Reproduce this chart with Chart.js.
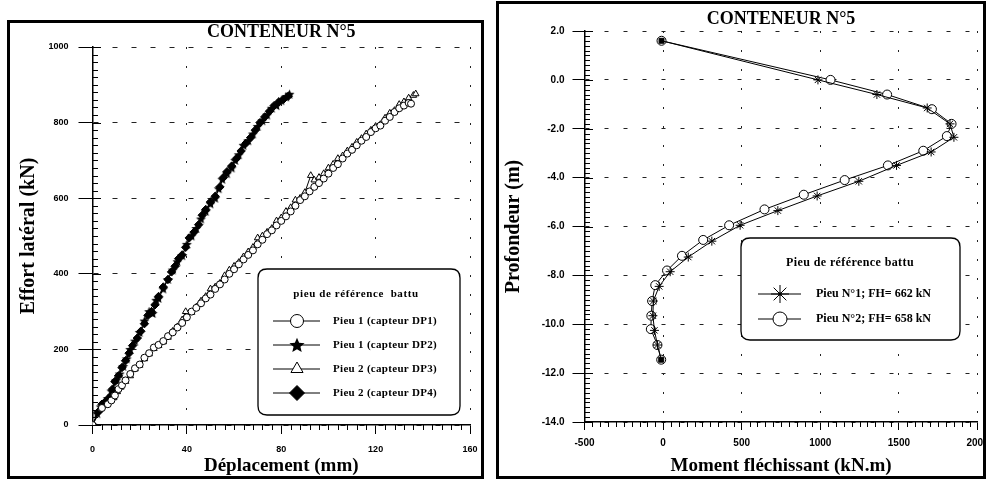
<!DOCTYPE html>
<html><head><meta charset="utf-8">
<script src="https://cdn.jsdelivr.net/npm/chart.js@4.4.1/dist/chart.umd.min.js"></script>
<style>
html,body{margin:0;padding:0;background:#fff;}
body{width:986px;height:480px;position:relative;overflow:hidden;}
.panel{position:absolute;box-sizing:border-box;border:3px solid #000;background:#fff;}
#pl{left:7px;top:20px;width:477px;height:459px;}
#pr{left:496px;top:1px;width:490px;height:478px;}
canvas{display:block;}
.overlay{position:absolute;left:0;top:0;pointer-events:none;}
</style></head><body>
<div class="panel" id="pl"><canvas id="cl" width="471" height="453"></canvas><canvas class="overlay" id="ol" width="471" height="453"></canvas></div>
<div class="panel" id="pr"><canvas id="cr" width="484" height="472"></canvas><canvas class="overlay" id="or" width="484" height="472"></canvas></div>
<script>
// ---------- texts ----------
const chartTitle = 'CONTENEUR N°5';
const leftXTitle = 'Déplacement (mm)';
const leftYTitle = 'Effort latéral (kN)';
const leftLegendTitle = 'pieu de référence  battu';
const leftSeriesLabels = ['Pieu 1 (capteur DP1)', 'Pieu 1 (capteur DP2)', 'Pieu 2 (capteur DP3)', 'Pieu 2 (capteur DP4)'];
const rightXTitle = 'Moment fléchissant (kN.m)';
const rightYTitle = 'Profondeur (m)';
const rightLegendTitle = 'Pieu de référence battu';
const rightSeriesLabels = ['Pieu N°1; FH= 662 kN', 'Pieu N°2; FH= 658 kN'];

// ---------- tick values ----------
const leftXTicks = [0, 40, 80, 120, 160];
const leftYTicks = [0, 200, 400, 600, 800, 1000];
const rightXTicks = [-500, 0, 500, 1000, 1500, 2000];
const rightYTicks = [2, 0, -2, -4, -6, -8, -10, -12, -14];

// ---------- left chart data (displacement mm, force kN) ----------
const dp1Disp  = [0, 4, 6.5, 8, 9.5, 11, 12.5, 14, 16, 18, 20, 22, 24, 26, 28, 30, 32, 34, 36, 38, 40, 42, 44, 46, 48, 50, 52, 54, 56, 58, 60, 62, 64, 66, 68, 70, 72, 74, 76, 78, 80, 82, 84, 86, 88, 90, 92, 94, 96, 98, 100, 102, 104, 106, 108, 110, 112, 114, 116, 118, 120, 122, 124, 126, 128, 130, 132, 134, 135];
const dp1Force = [0, 45, 55, 65, 78, 95, 105, 118, 135, 150, 160, 178, 190, 205, 212, 222, 235, 245, 258, 270, 285, 300, 310, 322, 335, 345, 360, 372, 385, 400, 412, 425, 438, 450, 462, 478, 490, 505, 515, 528, 540, 552, 565, 580, 595, 605, 618, 630, 640, 652, 665, 680, 690, 705, 718, 728, 740, 752, 762, 775, 785, 792, 805, 815, 828, 838, 845, 852, 850];

const dp2Disp  = [0, 2, 3.5, 5, 6.5, 8, 10, 11.5, 13, 14.5, 16, 18, 20, 22, 24, 27, 25.5, 28, 30, 32, 34, 36, 38, 40, 42, 44, 46, 48, 50, 52, 53.5, 55, 57, 59, 60.5, 62, 64, 66, 68, 70, 72, 74, 76, 78, 80, 82, 83.5];
const dp2Force = [0, 30, 48, 58, 70, 90, 118, 135, 155, 175, 200, 222, 245, 275, 300, 330, 295, 335, 360, 385, 410, 432, 448, 478, 500, 520, 545, 565, 585, 600, 625, 650, 665, 680, 700, 715, 740, 752, 770, 790, 805, 820, 838, 845, 858, 868, 875];

const dp3Disp  = [0, 3, 5, 7, 9, 10.5, 12, 14, 16, 18, 20, 22, 24, 26, 28, 30, 32, 34, 36, 38, 39.5, 42, 44, 46, 48, 50, 52, 54, 56, 58, 60, 62, 64, 66, 68, 70, 72, 74, 76, 78, 80, 82, 84, 86, 88, 90, 92.5, 94, 96, 98, 100, 102, 104, 106, 108, 110, 112, 114, 116, 118, 120, 122, 124, 126, 128, 130, 132, 134, 136, 137];
const dp3Force = [0, 40, 52, 62, 72, 88, 100, 115, 130, 148, 158, 175, 188, 202, 210, 220, 232, 248, 260, 278, 300, 298, 312, 328, 340, 360, 365, 375, 395, 410, 420, 430, 445, 458, 470, 495, 500, 510, 520, 540, 548, 565, 575, 595, 600, 615, 660, 648, 655, 665, 680, 690, 705, 712, 725, 735, 748, 758, 770, 780, 790, 795, 812, 825, 832, 848, 855, 865, 872, 876];

const dp4Disp  = [0, 2.5, 4, 5.5, 7, 8.5, 9.5, 11, 12.5, 14, 15.5, 17, 19, 20.5, 22, 23.5, 25, 26.5, 28, 30, 32, 33.5, 35, 36.5, 38, 39.5, 41, 43, 45, 46.5, 48, 50, 52, 54, 55.5, 57, 59, 61, 63, 65, 67, 69, 71, 73, 75, 77, 79, 81, 83];
const dp4Force = [0, 35, 55, 62, 72, 95, 115, 130, 152, 170, 190, 210, 230, 248, 268, 290, 300, 318, 340, 365, 385, 405, 420, 440, 450, 470, 495, 510, 530, 555, 570, 590, 605, 630, 655, 670, 685, 705, 725, 745, 760, 780, 800, 815, 830, 845, 855, 862, 870];

// ---------- right chart data (moment kN.m, depth m) ----------
const pieu1Depth  = [1.6, 0.0, -0.6, -1.15, -1.8, -2.35, -2.95, -3.5, -4.15, -4.75, -5.35, -5.95, -6.6, -7.25, -7.85, -8.45, -9.05, -9.65, -10.25, -10.85, -11.45];
const pieu1Moment = [-10, 985, 1360, 1680, 1825, 1850, 1705, 1485, 1245, 980, 730, 490, 310, 160, 45, -25, -62, -65, -55, -36, -12];
const pieu2Depth  = [1.6, 0.0, -0.6, -1.2, -1.8, -2.3, -2.9, -3.5, -4.1, -4.7, -5.3, -5.95, -6.55, -7.2, -7.8, -8.4, -9.05, -9.65, -10.2, -10.85, -11.45];
const pieu2Moment = [-10, 1065, 1425, 1710, 1835, 1805, 1655, 1430, 1155, 895, 645, 420, 255, 120, 25, -50, -70, -75, -78, -36, -12];

// ---------- axis minor-tick settings (axis units) ----------
const leftMinor = {x: {step: 4, len: 5, major: 40, majorLen: 0}, y: {step: 20, len: 5, major: 200, majorLen: 8}};
const rightMinor = {x: {step: 50, len: 5, major: 500, majorLen: 0}, y: {step: 0.2, len: 5, major: 2, majorLen: 8}};

// ---------- helpers ----------
const zip = (xs, ys) => xs.map((x, i) => ({x: x, y: ys[i]}));
function starCanvas(r) {
  const s = Math.ceil(r * 2 + 2);
  const c = document.createElement('canvas');
  c.width = s; c.height = s;
  const g = c.getContext('2d');
  g.translate(s / 2, s / 2 + r * 0.08);
  g.beginPath();
  for (let k = 0; k < 10; k++) {
    const rad = (k % 2) ? r * 0.45 : r;
    const a = -Math.PI / 2 + k * Math.PI / 5;
    g.lineTo(rad * Math.cos(a), rad * Math.sin(a));
  }
  g.closePath(); g.fillStyle = '#000'; g.fill();
  return c;
}
const starSmall = starCanvas(5.2);
const starBig = starCanvas(8);

function roundRectPath(ctx, x, y, w, h, r) {
  ctx.moveTo(x + r, y);
  ctx.lineTo(x + w - r, y); ctx.quadraticCurveTo(x + w, y, x + w, y + r);
  ctx.lineTo(x + w, y + h - r); ctx.quadraticCurveTo(x + w, y + h, x + w - r, y + h);
  ctx.lineTo(x + r, y + h); ctx.quadraticCurveTo(x, y + h, x, y + h - r);
  ctx.lineTo(x, y + r); ctx.quadraticCurveTo(x, y, x + r, y);
  ctx.closePath();
}

// minor ticks drawn on a clean overlay canvas, positioned through the chart's own scales
function drawMinorOverlay(chart, overlayId, cfg) {
  const cv = document.getElementById(overlayId);
  const ctx = cv.getContext('2d');
  ctx.clearRect(0, 0, cv.width, cv.height);
  ctx.strokeStyle = '#000';
  ctx.lineWidth = 1;
  const area = chart.chartArea;
  ['x', 'y'].forEach(id => {
    const s = chart.scales[id];
    const o = cfg[id];
    const lo = Math.min(s.min, s.max), hi = Math.max(s.min, s.max);
    const n = Math.round((hi - lo) / o.step);
    ctx.beginPath();
    for (let i = 0; i <= n; i++) {
      const v = lo + i * o.step;
      const q = v / o.major;
      const isMajor = Math.abs(q - Math.round(q)) < 1e-6;
      const len = isMajor ? o.majorLen : o.len;
      if (len > 0) {
        const p = Math.round(s.getPixelForValue(v)) + 0.5;
        if (id === 'x') { const b = Math.round(area.bottom); ctx.moveTo(p, b); ctx.lineTo(p, b + len); }
        else { const l = Math.round(area.left); ctx.moveTo(l, p); ctx.lineTo(l + len, p); }
      }
    }
    ctx.stroke();
  });
}

const decor = {
  id: 'decor',
  afterDraw(chart, args, o) {
    const ctx = chart.ctx;
    ctx.save();
    ctx.beginPath();
    roundRectPath(ctx, o.x, o.y, o.w, o.h, o.r);
    ctx.fillStyle = '#fff'; ctx.fill();
    ctx.lineWidth = 1.3; ctx.strokeStyle = '#000'; ctx.stroke();
    ctx.fillStyle = '#000';
    ctx.textBaseline = 'middle';
    ctx.textAlign = 'center';
    ctx.font = o.titleFont;
    if ('letterSpacing' in ctx) ctx.letterSpacing = o.titleSpacing;
    ctx.fillText(o.title, o.titleX, o.titleY);
    if ('letterSpacing' in ctx) ctx.letterSpacing = o.textSpacing;
    ctx.textAlign = 'left';
    ctx.font = o.textFont;
    chart.data.datasets.forEach((ds, i) => {
      const y = o.rowY[i];
      ctx.beginPath(); ctx.moveTo(o.lineX1, y); ctx.lineTo(o.lineX2, y);
      ctx.lineWidth = 1; ctx.strokeStyle = '#000'; ctx.stroke();
      ctx.fillStyle = ds.legendFill; ctx.strokeStyle = '#000'; ctx.lineWidth = 1;
      Chart.helpers.drawPoint(ctx, {pointStyle: ds.legendStyle, radius: ds.legendRadius, rotation: 0, borderWidth: 1}, o.markerX, y);
      if (ds.legendDot) { ctx.beginPath(); ctx.arc(o.markerX, y, 1.8, 0, Math.PI * 2); ctx.fillStyle = '#000'; ctx.fill(); }
      ctx.fillStyle = '#000';
      ctx.fillText(ds.label, o.textX, y);
    });
    ctx.restore();
  }
};

Chart.defaults.font.family = "'Liberation Serif', 'Times New Roman', serif";
Chart.defaults.color = '#000';

const serifBold = (size, lh) => ({family: "'Liberation Serif', 'Times New Roman', serif", size: size, weight: 'bold', lineHeight: lh});
const sansBold = (size) => ({family: "'Liberation Sans', Arial, sans-serif", size: size, weight: 'bold'});
const plain = v => String(v);

// ---------- left chart ----------
const lineBase = {showLine: true, borderColor: '#000', borderWidth: 1, tension: 0, pointBorderColor: '#000', pointBorderWidth: 1};
const leftChart = new Chart(document.getElementById('cl'), {
  type: 'scatter',
  data: {
    datasets: [
      Object.assign({}, lineBase, {label: leftSeriesLabels[0], data: zip(dp1Disp, dp1Force), pointStyle: 'circle', pointRadius: 3.5, pointBackgroundColor: '#fff', legendStyle: 'circle', legendRadius: 6.5, legendFill: '#fff'}),
      Object.assign({}, lineBase, {label: leftSeriesLabels[1], data: zip(dp2Disp, dp2Force), pointStyle: starSmall, pointRadius: 4, pointBackgroundColor: '#000', legendStyle: starBig, legendRadius: 8, legendFill: '#000'}),
      Object.assign({}, lineBase, {label: leftSeriesLabels[2], data: zip(dp3Disp, dp3Force), pointStyle: 'triangle', pointRadius: 3.8, pointBackgroundColor: '#fff', legendStyle: 'triangle', legendRadius: 7, legendFill: '#fff'}),
      Object.assign({}, lineBase, {label: leftSeriesLabels[3], data: zip(dp4Disp, dp4Force), pointStyle: 'rectRot', pointRadius: 4.2, pointBackgroundColor: '#000', legendStyle: 'rectRot', legendRadius: 7.5, legendFill: '#000'})
    ]
  },
  options: {
    responsive: false, animation: false,
    layout: {padding: {left: 0, right: 11, top: 0, bottom: 0}},
    plugins: {
      legend: {display: false}, tooltip: {enabled: false},
      title: {display: true, text: chartTitle, fullSize: false, font: serifBold(18, 1), padding: {top: 0.5, bottom: 5.5}, color: '#000'},
      decor: {x: 248, y: 246, w: 202, h: 146, r: 9, title: leftLegendTitle, titleX: 346, titleY: 271,
        titleFont: "bold 11px 'Liberation Serif', serif", titleSpacing: '0.6px', textFont: "bold 11px 'Liberation Serif', serif", textSpacing: '0.3px',
        rowY: [298, 322, 346, 370], lineX1: 263, lineX2: 310, markerX: 287, textX: 323}
    },
    scales: {
      x: {
        type: 'linear', position: 'bottom', min: leftXTicks[0], max: leftXTicks[leftXTicks.length - 1],
        ticks: {stepSize: leftXTicks[1] - leftXTicks[0], font: sansBold(9), color: '#000', padding: 10, maxRotation: 0, callback: plain},
        grid: {color: '#222', lineWidth: 1, tickLength: 9, tickColor: '#000', tickWidth: 1},
        border: {display: true, color: '#000', width: 1.5, dash: [2, 17]},
        title: {display: true, text: leftXTitle, font: serifBold(19, 1), padding: {top: 0, bottom: 0}, color: '#000'},
        afterFit(s) { s.height = 51; s.paddingLeft = 0; s.paddingRight = 0; }
      },
      y: {
        type: 'linear', position: 'left', min: leftYTicks[0], max: leftYTicks[leftYTicks.length - 1],
        ticks: {stepSize: leftYTicks[1] - leftYTicks[0], font: sansBold(9), color: '#000', padding: 10, callback: plain},
        grid: {color: '#222', lineWidth: 1, tickLength: 14, tickColor: '#000', tickWidth: 1},
        border: {display: true, color: '#000', width: 1.5, dash: [5, 14]},
        title: {display: true, text: leftYTitle, font: serifBold(20, 1.2), padding: {top: 7, bottom: 0}, color: '#000'},
        afterFit(s) { s.width = 82.5; s.paddingTop = 0; s.paddingBottom = 0; }
      }
    }
  },
  plugins: [decor]
});
drawMinorOverlay(leftChart, 'ol', leftMinor);

// ---------- right chart ----------
const lastIdx = pieu1Depth.length - 1;
const isEnd = c => c.dataIndex === 0 || c.dataIndex === lastIdx;
const rightChart = new Chart(document.getElementById('cr'), {
  type: 'scatter',
  data: {
    datasets: [
      Object.assign({}, lineBase, {label: rightSeriesLabels[0], data: zip(pieu1Moment, pieu1Depth),
        pointStyle: c => isEnd(c) ? 'rect' : 'star', pointRadius: c => isEnd(c) ? 3.5 : 4.5, pointBackgroundColor: '#000',
        legendStyle: 'star', legendRadius: 9, legendFill: '#000', legendDot: true}),
      Object.assign({}, lineBase, {label: rightSeriesLabels[1], data: zip(pieu2Moment, pieu2Depth),
        pointStyle: 'circle', pointRadius: 4.5, pointBackgroundColor: '#fff',
        legendStyle: 'circle', legendRadius: 7, legendFill: '#fff'})
    ]
  },
  options: {
    responsive: false, animation: false,
    layout: {padding: {left: 0, right: 4.7, top: 0, bottom: 0}},
    plugins: {
      legend: {display: false}, tooltip: {enabled: false},
      title: {display: true, text: chartTitle, fullSize: false, font: serifBold(18, 1), padding: {top: 6, bottom: 3}, color: '#000'},
      decor: {x: 242, y: 234, w: 219, h: 102, r: 9, title: rightLegendTitle, titleX: 351, titleY: 259,
        titleFont: "bold 12px 'Liberation Serif', serif", titleSpacing: '0.4px', textFont: "bold 12px 'Liberation Serif', serif", textSpacing: '0px',
        rowY: [290, 315], lineX1: 259, lineX2: 302, markerX: 281, textX: 317}
    },
    scales: {
      x: {
        type: 'linear', position: 'bottom', min: rightXTicks[0], max: rightXTicks[rightXTicks.length - 1],
        ticks: {stepSize: rightXTicks[1] - rightXTicks[0], font: sansBold(10), color: '#000', padding: 7, maxRotation: 0, callback: plain},
        grid: {color: '#222', lineWidth: 1, tickLength: 8, tickColor: '#000', tickWidth: 1},
        border: {display: true, color: '#000', width: 1.5, dash: [2, 17]},
        title: {display: true, text: rightXTitle, font: serifBold(19, 1), padding: {top: 0, bottom: 0}, color: '#000'},
        afterFit(s) { s.height = 54; s.paddingLeft = 0; s.paddingRight = 0; }
      },
      y: {
        type: 'linear', position: 'left', min: rightYTicks[rightYTicks.length - 1], max: rightYTicks[0],
        ticks: {stepSize: rightYTicks[0] - rightYTicks[1], font: sansBold(10), color: '#000', padding: 8, callback: v => Number(v).toFixed(1)},
        grid: {color: '#222', lineWidth: 1, tickLength: 12, tickColor: '#000', tickWidth: 1},
        border: {display: true, color: '#000', width: 1.5, dash: [4, 15]},
        title: {display: true, text: rightYTitle, font: serifBold(20, 1.2), padding: {top: 3, bottom: 0}, color: '#000'},
        afterFit(s) { s.width = 85.5; s.paddingTop = 0; s.paddingBottom = 0; }
      }
    }
  },
  plugins: [decor]
});
drawMinorOverlay(rightChart, 'or', rightMinor);
</script></body></html>
